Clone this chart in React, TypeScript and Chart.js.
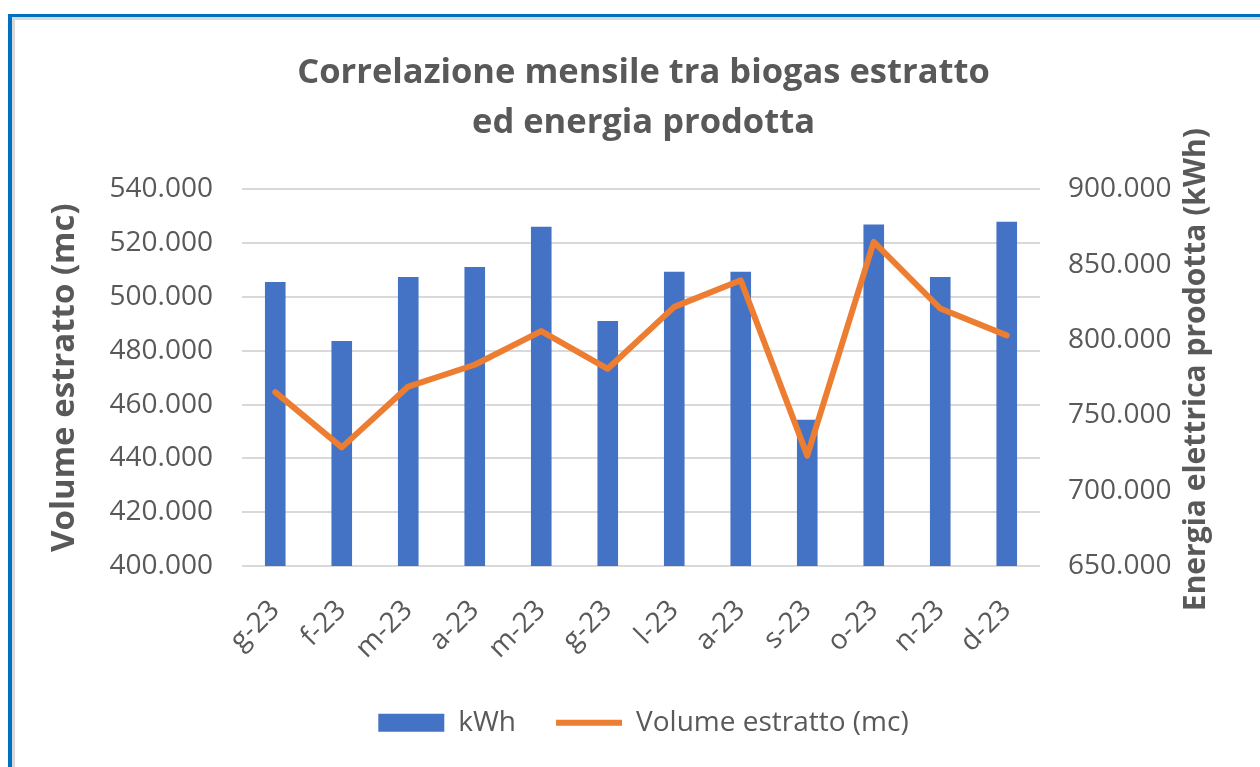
import React, { useEffect, useRef } from "react";
import { Chart, registerables } from "chart.js";

Chart.register(...registerables);

const titleLines = ["Correlazione mensile tra biogas estratto", "ed energia prodotta"];
const months = ["g-23", "f-23", "m-23", "a-23", "m-23", "g-23", "l-23", "a-23", "s-23", "o-23", "n-23", "d-23"];
const kwhValues = [838500, 799300, 841800, 848500, 875100, 812600, 845200, 845200, 747000, 876700, 841800, 878400];
const volumeValues = [464600, 444100, 466700, 474800, 487300, 473300, 496300, 506200, 441000, 520500, 495700, 485700];
const leftAxisRange = [400000, 540000, 20000];
const rightAxisRange = [650000, 900000, 50000];
const leftAxisTitle = "Volume estratto (mc)";
const rightAxisTitle = "Energia elettrica prodotta (kWh)";
const barLabel = "kWh";
const lineLabel = "Volume estratto (mc)";

const TEXT = "#595959";
const FONT = "'Open Sans', 'Noto Sans', sans-serif";

const fmt = (v: number) => String(Math.round(v)).replace(/\B(?=(\d{3})+(?!\d))/g, ".");

// Right axis title reads bottom-to-top (like the left one), so draw it rotated -90deg.
const rightTitlePlugin = {
  id: "rightAxisTitle",
  afterDraw(chart: any) {
    const { ctx, chartArea } = chart;
    ctx.save();
    ctx.translate(chart.width - 64, (chartArea.top + chartArea.bottom) / 2 - 8);
    ctx.rotate(-Math.PI / 2);
    ctx.font = `bold 30px ${FONT}`;
    ctx.fillStyle = TEXT;
    ctx.textAlign = "center";
    ctx.textBaseline = "middle";
    ctx.fillText(rightAxisTitle, 0, 0);
    ctx.restore();
  },
};

export default function App() {
  const ref = useRef<HTMLCanvasElement | null>(null);

  useEffect(() => {
    if (!ref.current) return;
    const chart = new Chart(ref.current, {
      type: "bar",
      data: {
        labels: months,
        datasets: [
          {
            type: "bar",
            label: barLabel,
            data: kwhValues,
            yAxisID: "y1",
            backgroundColor: "#4472C4",
            borderWidth: 0,
            barPercentage: 0.31,
            categoryPercentage: 1,
            pointStyle: "rect",
            order: 1,
          } as any,
          {
            type: "line",
            label: lineLabel,
            data: volumeValues,
            yAxisID: "y",
            borderColor: "#ED7D31",
            backgroundColor: "#ED7D31",
            borderWidth: 6,
            pointRadius: 0,
            pointHoverRadius: 0,
            pointStyle: "line",
            tension: 0,
            borderJoinStyle: "round",
            borderCapStyle: "round",
            order: 0,
          } as any,
        ],
      },
      options: {
        responsive: false,
        animation: false,
        layout: { padding: { left: 12, right: 0, top: 0, bottom: 20.3 } },
        font: { family: FONT },
        plugins: {
          tooltip: { enabled: false },
          title: {
            display: true,
            text: titleLines,
            color: TEXT,
            font: { family: FONT, size: 34.5, weight: "bold", lineHeight: 50 / 34.5 },
            padding: { top: 28, bottom: 41.3 },
          },
          legend: {
            display: true,
            position: "bottom",
            labels: {
              usePointStyle: true,
              pointStyleWidth: 66,
              boxHeight: 18,
              padding: 40,
              color: TEXT,
              font: { family: FONT, size: 28 },
              sort: (a: any, b: any) => a.datasetIndex - b.datasetIndex,
            },
          },
        },
        scales: {
          x: {
            type: "category",
            offset: true,
            grid: { display: false, drawTicks: false },
            border: { display: false },
            ticks: {
              color: TEXT,
              font: { family: FONT, size: 28, lineHeight: 1.0 },
              minRotation: 45,
              maxRotation: 45,
              padding: 30,
              autoSkip: false,
            },
            afterFit: (s: any) => {
              s.height = 102.7;
            },
          },
          y: {
            type: "linear",
            position: "left",
            min: leftAxisRange[0],
            max: leftAxisRange[1],
            grid: { color: "#d9d9d9", lineWidth: 2, drawTicks: false },
            border: { display: false },
            ticks: {
              stepSize: leftAxisRange[2],
              color: TEXT,
              font: { family: FONT, size: 28 },
              padding: 29,
              callback: (v: any) => fmt(Number(v)),
            },
            title: {
              display: true,
              text: leftAxisTitle,
              color: TEXT,
              font: { family: FONT, size: 33, weight: "bold", lineHeight: 1.2 },
              padding: { top: 18.2, bottom: 0 },
            },
            afterFit: (s: any) => {
              s.width = 215;
            },
          },
          y1: {
            type: "linear",
            position: "right",
            min: rightAxisRange[0],
            max: rightAxisRange[1],
            grid: { display: false, drawTicks: false },
            border: { display: false },
            ticks: {
              stepSize: rightAxisRange[2],
              color: TEXT,
              font: { family: FONT, size: 28 },
              padding: 28,
              callback: (v: any) => fmt(Number(v)),
            },
            afterFit: (s: any) => {
              s.width = 220;
            },
          },
        },
      } as any,
      plugins: [rightTitlePlugin],
    });
    return () => chart.destroy();
  }, []);

  return (
    <div
      style={{
        position: "absolute",
        left: 0,
        top: 0,
        width: 1260,
        height: 767,
        overflow: "hidden",
        background: "#ffffff",
      }}
    >
      <div
        style={{
          position: "absolute",
          left: 8,
          top: 14,
          right: 0,
          bottom: 0,
          borderTop: "3px solid #0070C0",
          borderLeft: "4px solid #0070C0",
        }}
      >
        <div
          style={{
            position: "absolute",
            left: 0,
            top: 0,
            right: 0,
            bottom: 0,
            borderTop: "3px solid #d9d9d9",
            borderLeft: "3px solid #d9d9d9",
          }}
        >
          <canvas ref={ref} width={1245} height={747} style={{ display: "block", width: 1245, height: 747 }} />
        </div>
      </div>
    </div>
  );
}
